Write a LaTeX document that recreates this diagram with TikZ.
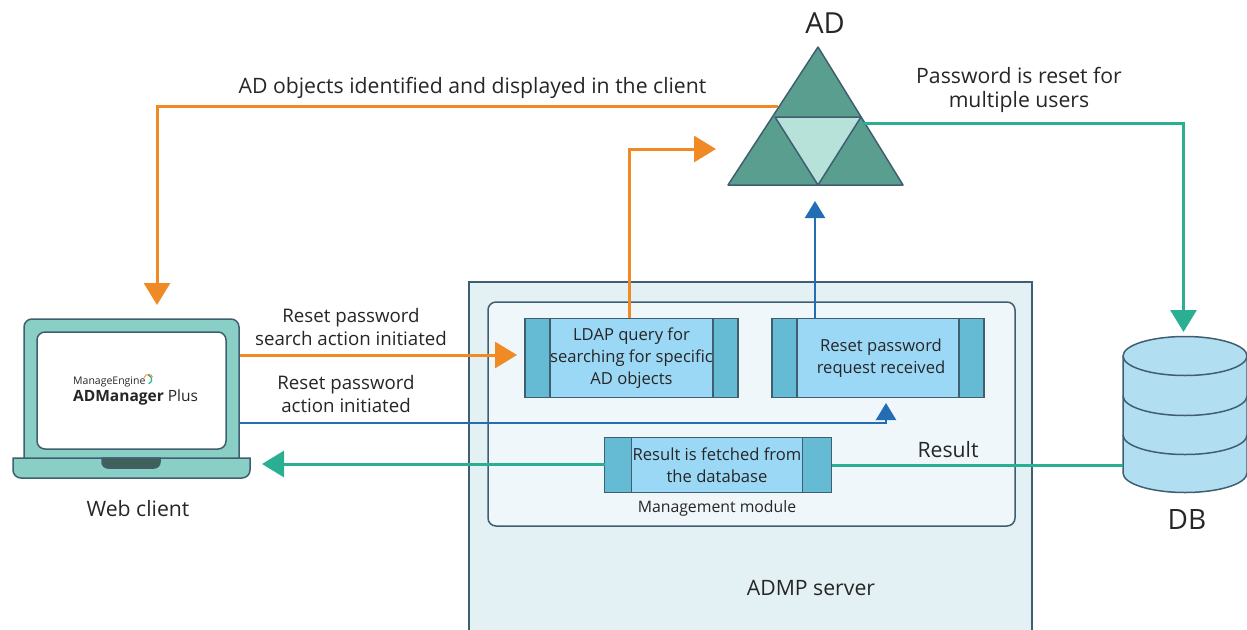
\documentclass[tikz,border=0pt]{standalone}
\usepackage{fontspec}
\setmainfont{Open Sans}
\usetikzlibrary{arrows.meta,positioning}
\definecolor{edgeblue}{HTML}{3F5F70}
\definecolor{lapteal}{HTML}{8ACFC6}
\definecolor{darkkey}{HTML}{41605A}
\definecolor{adgreen}{HTML}{5A9E8F}
\definecolor{adlight}{HTML}{B7E2DA}
\definecolor{flowor}{HTML}{F08A24}
\definecolor{flowbl}{HTML}{226DB4}
\definecolor{flowte}{HTML}{2BAF92}
\definecolor{serverbg}{HTML}{E3F1F5}
\definecolor{modulebg}{HTML}{EFF7FA}
\definecolor{midbox}{HTML}{9BD8F6}
\definecolor{sidebox}{HTML}{66BBD4}
\definecolor{dbfill}{HTML}{B2DEF2}
\tikzset{
 lbl/.style={font=\fontsize{21.2}{24}\selectfont,text=black!85,align=center,inner sep=0pt},
 small/.style={font=\fontsize{18.7}{23}\selectfont,text=black!85,align=center,inner sep=0pt},
 mid/.style={rectangle,draw=edgeblue,fill=midbox,line width=1.5pt,minimum height=#1,inner sep=0pt,outer sep=0pt,
   font=\fontsize{16.6}{22}\selectfont,text=black!85,align=center},
 side/.style={rectangle,draw=edgeblue,fill=sidebox,line width=1.5pt,minimum height=#1,inner sep=0pt,outer sep=0pt},
 orflow/.style={draw=flowor,line width=3pt,-{Triangle[length=22pt,width=26pt]}},
 teflow/.style={draw=flowte,line width=3pt,-{Triangle[length=22pt,width=26pt]}},
 blflow/.style={draw=flowbl,line width=2.2pt,-{Triangle[length=17pt,width=20pt]}},
 edge/.style={draw=edgeblue,line width=1.5pt}
}
\begin{document}
\begin{tikzpicture}[x=1pt,y=-1pt]
\useasboundingbox (0,0) rectangle (1247,629);
\node[rectangle,draw=edgeblue,fill=serverbg,line width=1.5pt,minimum width=563pt,minimum height=360pt,anchor=north west,outer sep=0pt] (server) at (469,282) {};
\useasboundingbox (0,0) rectangle (1247,629);
\node[rectangle,rounded corners=8pt,draw=edgeblue,fill=modulebg,line width=1.5pt,minimum width=527pt,minimum height=224pt,anchor=north west,outer sep=0pt] (module) at (488,302) {};

\node[mid=79pt,minimum width=162pt] (ldap) at (631.5,358) {LDAP query for\\searching for specific\\AD objects};
\node[side=79pt,minimum width=25pt,left=0pt of ldap] (ldapl) {};
\node[side=79pt,minimum width=25pt,right=0pt of ldap] (ldapr) {};
\node[mid=79pt,minimum width=162pt] (reset) at (878,358) {\hspace*{6pt}Reset password\\\hspace*{6pt}request received};
\node[side=79pt,minimum width=25pt,left=0pt of reset] (resetl) {};
\node[side=79pt,minimum width=25pt,right=0pt of reset] (resetr) {};
\node[mid=55pt,minimum width=171pt] (fetch) at (717,465) {Result is fetched from\\the database};
\node[side=55pt,minimum width=27pt,left=0pt of fetch] (fetchl) {};
\node[side=55pt,minimum width=29pt,right=0pt of fetch] (fetchr) {};
\node[font=\fontsize{15.8}{16}\selectfont,text=black!85,inner sep=0pt] (mgmt) at (717,508) {Management module};
\node[lbl] (admp) at (811,588) {ADMP server};

\coordinate (lt) at (818,47);
\coordinate (ll) at (728,185);
\coordinate (lr) at (903,185);
\coordinate (il) at (775,117);
\coordinate (ir) at (861,117);
\coordinate (ib) at (818,185);
\draw[edge,fill=adgreen,line join=round] (lt) -- (lr) -- (ll) -- cycle;
\draw[edge,fill=adlight,line join=round] (il) -- (ir) -- (ib) -- cycle;
\node[font=\fontsize{29}{30}\selectfont,text=black!85,inner sep=0pt] (adlabel) at (825,23) {AD};

\draw[edge,fill=dbfill] (1123,356) arc[start angle=180,end angle=0,x radius=62pt,y radius=19.5pt] -- (1247,473)
  arc[start angle=0,end angle=-180,x radius=62pt,y radius=19.5pt] -- cycle;
\draw[edge] (1123,356) arc[start angle=180,end angle=360,x radius=62pt,y radius=19.5pt];
\draw[edge] (1123,396) arc[start angle=180,end angle=360,x radius=62pt,y radius=19.5pt];
\draw[edge] (1123,435) arc[start angle=180,end angle=360,x radius=62pt,y radius=19.5pt];
\node[font=\fontsize{28}{30}\selectfont,text=black!85,inner sep=0pt] (dblabel) at (1187,519) {DB};

\node[rectangle,rounded corners=8pt,draw=edgeblue,fill=lapteal,line width=1.5pt,minimum width=215pt,minimum height=150pt,anchor=north west,outer sep=0pt] (laptop) at (24,319) {};
\node[rectangle,rounded corners=8pt,draw=edgeblue,fill=white,line width=1.5pt,minimum width=189pt,minimum height=117pt,anchor=north west,outer sep=0pt] (screen) at (37,332) {};
\draw[edge,fill=lapteal] (13,458) {[rounded corners=8pt] -- (13,478) -- (250,478)} -- (250,458) -- cycle;
\draw[edge,fill=darkkey] (102,458) {[rounded corners=6pt] -- (102,468) -- (160,468)} -- (160,458) -- cycle;
\node[font=\fontsize{10.5}{12}\selectfont,text=black!85,inner sep=0pt,anchor=west] (melogo) at (73,382) {ManageEngine};
\node[font=\fontsize{15.5}{18}\selectfont,text=black!85,inner sep=0pt,anchor=west] (adlogo) at (73,397.5) {\textbf{ADManager} Plus};
\draw[flowor,line width=.8pt] (144,378) arc[start angle=170,end angle=20,radius=4.5pt];
\draw[flowte,line width=1.2pt] (148,375) arc[start angle=80,end angle=-70,radius=4.5pt];
\node[lbl] (weblabel) at (138,509) {Web client};

\node[lbl] (l1) at (472.5,88) {AD objects identified and displayed in the client};
\node[lbl] (l2) at (1019,90) {Password is reset for\\multiple users};
\node[small] (l3) at (351,327) {Reset password\\search action initiated};
\node[small] (l4) at (346,394) {Reset password\\action initiated};
\node[lbl] (l5) at (948,450) {Result};

\coordinate (adout) at (778,106);
\coordinate (adin) at (716,149);
\coordinate (adbot) at (815,201);
\coordinate (adright) at (862,123);
\coordinate (dbtop) at (1183.5,332);
\coordinate (dbleft) at (1123,465);
\coordinate (laptop1) at (240,355);
\coordinate (laptop2) at (240,423);
\coordinate (laptop3) at (262,464);
\coordinate (laptop0) at (157,305);
\coordinate (ldapin) at (517,355);
\coordinate (ldapup) at (629,318);
\coordinate (resetup) at (815,318);
\coordinate (resetin) at (886,403);
\draw[orflow] (adout) -| (laptop0);
\draw[orflow] (ldapup) |- (adin);
\draw[blflow] (resetup) -- (adbot);
\draw[teflow] (adright) -| (dbtop);
\draw[orflow] (laptop1) -- (ldapin);
\draw[blflow] (laptop2) -| (resetin);
\draw[teflow] (fetchl.west |- laptop3) -- (laptop3);
\draw[flowte,line width=3pt] (dbleft) -- (fetchr.east |- dbleft);
\end{tikzpicture}
\end{document}
